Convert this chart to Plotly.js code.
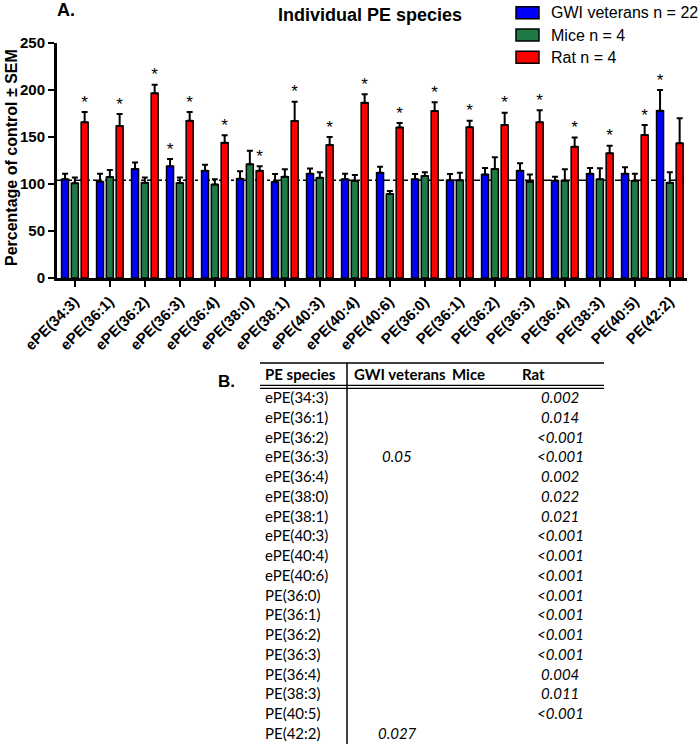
<!DOCTYPE html>
<html><head><meta charset="utf-8">
<script src="https://cdn.plot.ly/plotly-3.0.1.min.js"></script>
<style>html,body{margin:0;padding:0;background:#fff}#chart{width:699px;height:747px}</style>
</head><body><div id="chart"></div>
<script>
// ---------- DATA ----------
const categories = ['ePE(34:3)','ePE(36:1)','ePE(36:2)','ePE(36:3)','ePE(36:4)','ePE(38:0)','ePE(38:1)','ePE(40:3)','ePE(40:4)','ePE(40:6)','PE(36:0)','PE(36:1)','PE(36:2)','PE(36:3)','PE(36:4)','PE(38:3)','PE(40:5)','PE(42:2)'];
const seriesNames = ['GWI veterans n = 22','Mice n = 4','Rat n = 4'];
const gwiValues  = [105, 102.5, 116, 119, 114, 105.7, 102, 111, 105, 112, 105, 104, 110, 114, 103.5, 111, 111, 178];
const gwiSem     = [6, 8.5, 7, 7.6, 6.6, 7.8, 8.6, 5.6, 6, 6.4, 5.6, 6.6, 7, 8, 4.3, 6, 6.9, 22];
const miceValues = [100.7, 107.4, 101.4, 101, 99.6, 121, 107.8, 106.7, 103.5, 89.4, 108.5, 104, 116, 102.5, 103.5, 105, 103.5, 101.4];
const miceSem    = [6.3, 7.6, 5.6, 6, 5.4, 14.5, 7.8, 5.7, 6.1, 3.1, 3.9, 8, 12.4, 7.5, 12.1, 11.7, 7.5, 11];
const ratValues  = [165.6, 161.7, 196.5, 167.4, 144, 114, 167, 141.5, 186.5, 160, 177.7, 160.3, 162.8, 165.6, 139.7, 132.6, 152, 143.3];
const ratSem     = [11, 12.8, 9.2, 9.2, 7.8, 5, 20.6, 8.5, 8.9, 5, 9.2, 7.1, 13.1, 12.8, 9.9, 8.2, 10.8, 26.7];
const gwiSig  = [0,0,0,1,0,0,0,0,0,0,0,0,0,0,0,0,0,1];
const miceSig = [0,0,0,0,0,0,0,0,0,0,0,0,0,0,0,0,0,0];
const ratSig  = [1,1,1,1,1,1,1,1,1,1,1,1,1,1,1,1,1,0];
const referenceLine = 104;
const yTicks = [0, 50, 100, 150, 200, 250];
// Table B
const tableHeaders = ['PE species','GWI veterans','Mice','Rat'];
const tableGwiP  = ['','','','0.05','','','','','','','','','','','','','','0.027'];
const tableMiceP = ['','','','','','','','','','','','','','','','','',''];
const tableRatP  = ['0.002','0.014','<0.001','<0.001','0.002','0.022','0.021','<0.001','<0.001','<0.001','<0.001','<0.001','<0.001','<0.001','0.004','0.011','<0.001',''];

// ---------- STYLE ----------
const W = 699, H = 747;
const X = p => p / W, Y = p => 1 - p / H;
const colors = ['#0000FF', '#1F7A45', '#FF0000'];
const offsets = [-0.27, 0.01, 0.29];
const barWidth = 0.2;
const AR = 'Arial, "Liberation Sans", sans-serif';
const TB = 'Lato, "Open Sans", sans-serif';
const idx = categories.map((_, i) => i);

const vals = [gwiValues, miceValues, ratValues];
const sems = [gwiSem, miceSem, ratSem];
const sigs = [gwiSig, miceSig, ratSig];

const traces = [];
vals.forEach((v, k) => {
  traces.push({
    type: 'bar', name: seriesNames[k],
    x: idx.map(i => i + offsets[k]), y: v, width: barWidth,
    marker: {color: colors[k], line: {color: '#000', width: 1.5}},
    error_y: {type: 'data', symmetric: false, array: sems[k], arrayminus: v.map(() => 0),
              color: '#000', thickness: 2, width: 3},
    showlegend: false, hoverinfo: 'skip'
  });
});
vals.forEach((v, k) => {
  const sx = [], sy = [];
  idx.forEach(i => { if (sigs[k][i]) { sx.push(i + offsets[k]); sy.push(v[i] + sems[k][i] + 9); } });
  traces.push({type: 'scatter', mode: 'text', x: sx, y: sy, text: sx.map(() => '*'),
    textposition: 'middle center', textfont: {family: AR, size: 17, color: '#000'},
    showlegend: false, cliponaxis: false, hoverinfo: 'skip'});
});

const shapes = [
  {type: 'line', xref: 'x', yref: 'y', x0: -0.5, x1: 17.5, y0: referenceLine, y1: referenceLine,
   line: {color: '#000', width: 1.5, dash: 'dashdot'}, layer: 'below'}
];
const annotations = [
  {text: '<b>A.</b>', x: X(55), y: Y(10), xref: 'paper', yref: 'paper', xanchor: 'left', yanchor: 'middle', showarrow: false, font: {family: AR, size: 18, color: '#000'}},
  {text: '<b>Individual PE species</b>', x: X(370), y: Y(15), xref: 'paper', yref: 'paper', xanchor: 'center', yanchor: 'middle', showarrow: false, font: {family: AR, size: 18, color: '#000'}},
  {text: '<b>Percentage of control ± SEM</b>', x: X(12), y: Y(158), xref: 'paper', yref: 'paper', xanchor: 'center', yanchor: 'middle', textangle: -90, showarrow: false, font: {family: AR, size: 16, color: '#000'}},
  {text: '<b>B.</b>', x: X(216), y: Y(381), xref: 'paper', yref: 'paper', xanchor: 'left', yanchor: 'middle', showarrow: false, font: {family: AR, size: 17, color: '#000'}}
];
// Legend (drawn manually)
const legY = [12.7, 35, 57.3];
seriesNames.forEach((n, k) => {
  shapes.push({type: 'rect', xref: 'paper', yref: 'paper', x0: X(516), x1: X(539), y0: Y(legY[k] - 6), y1: Y(legY[k] + 6),
    fillcolor: colors[k], line: {color: '#000', width: 1.5}});
  annotations.push({text: n, x: X(549), y: Y(legY[k]), xref: 'paper', yref: 'paper', xanchor: 'left', yanchor: 'middle',
    showarrow: false, font: {family: AR, size: 16, color: '#000'}});
});
// Table B
shapes.push({type: 'line', xref: 'paper', yref: 'paper', x0: X(260), x1: X(604), y0: Y(363), y1: Y(363), line: {color: '#000', width: 1.5}});
shapes.push({type: 'line', xref: 'paper', yref: 'paper', x0: X(260), x1: X(604), y0: Y(385.3), y1: Y(385.3), line: {color: '#000', width: 1.2}});
shapes.push({type: 'line', xref: 'paper', yref: 'paper', x0: X(260), x1: X(604), y0: Y(388.3), y1: Y(388.3), line: {color: '#000', width: 1.2}});
shapes.push({type: 'line', xref: 'paper', yref: 'paper', x0: X(347), x1: X(347), y0: Y(363), y1: Y(744), line: {color: '#000', width: 1.5}});
const headerX = [263, 352, 450, 520];
tableHeaders.forEach((h, j) => annotations.push({text: '<b>' + h + '</b>', x: X(headerX[j]), y: Y(373.5), xref: 'paper', yref: 'paper',
  xanchor: 'left', yanchor: 'middle', showarrow: false, font: {family: TB, size: 15, color: '#000'}}));
const rowY = i => 397 + i * 19.76;
categories.forEach((c, i) => {
  annotations.push({text: c, x: X(263), y: Y(rowY(i)), xref: 'paper', yref: 'paper', xanchor: 'left', yanchor: 'middle',
    showarrow: false, font: {family: TB, size: 15, color: '#000'}});
  if (tableGwiP[i]) annotations.push({text: '<i>' + tableGwiP[i] + '</i>', x: X(397), y: Y(rowY(i)), xref: 'paper', yref: 'paper',
    xanchor: 'center', yanchor: 'middle', showarrow: false, font: {family: TB, size: 15, color: '#000'}});
  if (tableMiceP[i]) annotations.push({text: '<i>' + tableMiceP[i] + '</i>', x: X(466), y: Y(rowY(i)), xref: 'paper', yref: 'paper',
    xanchor: 'center', yanchor: 'middle', showarrow: false, font: {family: TB, size: 15, color: '#000'}});
  if (tableRatP[i]) annotations.push({text: '<i>' + tableRatP[i].replace('<', '&lt;') + '</i>', x: X(560), y: Y(rowY(i)), xref: 'paper', yref: 'paper',
    xanchor: 'center', yanchor: 'middle', showarrow: false, font: {family: TB, size: 15, color: '#000'}});
});

const layout = {
  width: W, height: H, margin: {l: 0, r: 0, t: 0, b: 0},
  paper_bgcolor: '#fff', plot_bgcolor: '#fff',
  barmode: 'overlay', showlegend: false,
  xaxis: {domain: [X(57), X(687)], range: [-0.5, 17.5], tickvals: idx, ticktext: categories, tickangle: -45,
    ticks: 'outside', ticklen: 6, tickwidth: 2, tickcolor: '#000', showline: true, linewidth: 3, linecolor: '#000',
    showgrid: false, zeroline: false, automargin: false,
    tickfont: {family: AR, size: 15, color: '#000', weight: 'bold'}},
  yaxis: {domain: [Y(278), Y(43)], range: [0, 250], tickvals: yTicks,
    ticks: 'outside', ticklen: 6, tickwidth: 2, tickcolor: '#000', showline: true, linewidth: 3, linecolor: '#000',
    showgrid: false, zeroline: false, automargin: false,
    tickfont: {family: AR, size: 15, color: '#000', weight: 'bold'}},
  shapes: shapes, annotations: annotations
};
Plotly.newPlot('chart', traces, layout, {staticPlot: true, displayModeBar: false});
</script>
</body></html>
